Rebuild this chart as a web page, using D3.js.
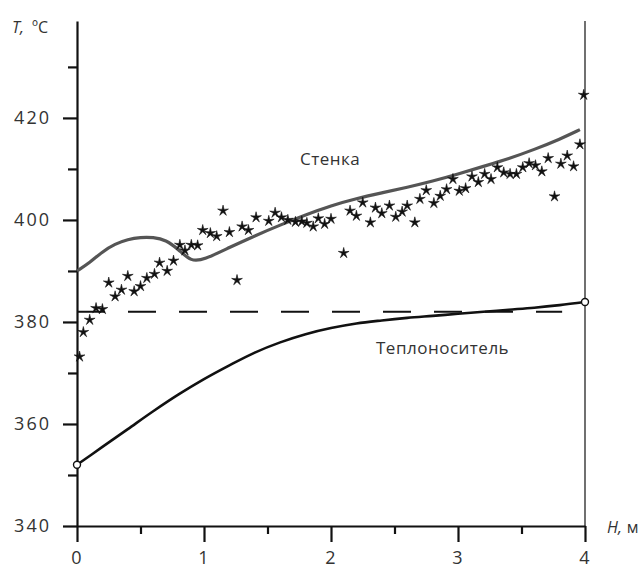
<!DOCTYPE html>
<html>
<head>
<meta charset="utf-8">
<script src="https://cdn.jsdelivr.net/npm/d3@7"></script>
<style>
  body { margin: 0; background: #fff; }
  text { font-family: "Open Sans", sans-serif; fill: #333; }
</style>
</head>
<body>
<script>
// wall temperature (gray curve)
var wallH = [0, 0.1, 0.2, 0.3, 0.4, 0.5, 0.6, 0.7, 0.8, 0.9, 1.0, 1.2, 1.4, 1.6, 1.8, 2.0, 2.2, 2.4, 2.6, 2.8, 3.0, 3.2, 3.4, 3.6, 3.8, 3.96];
var wallT = [390, 391.6, 393.8, 395.3, 396.2, 396.6, 396.6, 396.1, 394.2, 391.8, 392.2, 394.6, 396.9, 399, 401, 402.8, 404.2, 405.3, 406.4, 407.6, 409, 410.5, 412, 413.8, 415.8, 417.7];

// coolant temperature (black curve)
var coolH = [0, 0.2, 0.4, 0.6, 0.8, 1.0, 1.2, 1.4, 1.6, 1.8, 2.0, 2.2, 2.4, 2.6, 2.8, 3.0, 3.2, 3.4, 3.6, 3.8, 4.0];
var coolT = [352, 355.5, 359, 362.5, 365.8, 368.8, 371.5, 374, 376, 377.6, 378.8, 379.7, 380.3, 380.8, 381.2, 381.6, 382, 382.4, 382.8, 383.3, 383.9];

// measured points (stars)
var ptH = [0.02, 0.05, 0.10, 0.15, 0.20, 0.25, 0.30, 0.35, 0.40, 0.45, 0.50, 0.55, 0.61, 0.65, 0.71, 0.76, 0.81, 0.85, 0.90, 0.95, 0.99,
           1.05, 1.10, 1.15, 1.20, 1.26, 1.30, 1.35, 1.41, 1.51, 1.56, 1.61, 1.66, 1.72, 1.77, 1.81, 1.86, 1.90, 1.95, 2.00,
           2.10, 2.15, 2.20, 2.25, 2.31, 2.35, 2.40, 2.46, 2.51, 2.56, 2.60, 2.66, 2.70, 2.75, 2.81, 2.86, 2.91,
           2.96, 3.01, 3.06, 3.11, 3.16, 3.21, 3.26, 3.31, 3.36, 3.41, 3.46, 3.51, 3.56, 3.61, 3.66, 3.71, 3.76, 3.81, 3.86, 3.91, 3.96, 3.99];
var ptT = [373.2, 378, 380.4, 382.7, 382.5, 387.7, 385, 386.3, 389, 386, 387, 388.6, 389.4, 391.6, 390, 392, 395.1, 394, 395.1, 395, 398,
           397.4, 396.8, 401.8, 397.6, 388.2, 398.7, 398, 400.5, 399.8, 401.4, 400.5, 400, 399.6, 399.7, 399.4, 398.7, 400.3, 399.2, 400.2,
           393.5, 401.8, 400.8, 403.4, 399.5, 402.4, 401.3, 402.8, 400.6, 401.6, 402.8, 399.5, 404.1, 405.8, 403.3, 404.7, 406,
           408, 405.7, 406.2, 408.5, 407.4, 409, 408, 410.3, 409.3, 409, 409, 410.3, 411.1, 410.7, 409.5, 412.1, 404.6, 411, 412.6, 410.5, 414.8, 424.5];

var dashT = 382;
var xTicks = [0, 1, 2, 3, 4];
var xMinor = [0.5, 1.5, 2.5, 3.5];
var yTicks = [340, 360, 380, 400, 420];
var yMinor = [350, 370, 390, 410, 430];

var W = 644, H = 569;
var svg = d3.select("body").append("svg").attr("width", W).attr("height", H);

var x = d3.scaleLinear().domain([0, 4]).range([77, 585]);
var y = d3.scaleLinear().domain([340, 439]).range([526, 21]);

// right border line
svg.append("line")
  .attr("x1", x(4)).attr("x2", x(4))
  .attr("y1", y(439)).attr("y2", y(340))
  .attr("stroke", "#111").attr("stroke-width", 1.2);

// y axis
svg.append("g").attr("transform", "translate(" + x(0) + ",0)")
  .call(d3.axisLeft(y).tickValues(yTicks).tickSize(14).tickSizeOuter(0).tickPadding(12));
svg.append("g").attr("transform", "translate(" + x(0) + ",0)")
  .call(d3.axisLeft(y).tickValues(yMinor).tickSize(9).tickSizeOuter(0).tickFormat(""))
  .select(".domain").remove();

// x axis
svg.append("g").attr("transform", "translate(0," + y(340) + ")")
  .call(d3.axisBottom(x).tickValues(xTicks).tickSize(16).tickSizeOuter(0).tickPadding(9).tickFormat(d3.format("d")));
svg.append("g").attr("transform", "translate(0," + y(340) + ")")
  .call(d3.axisBottom(x).tickValues(xMinor).tickSize(8).tickSizeOuter(0).tickFormat(""))
  .select(".domain").remove();

svg.selectAll(".domain").attr("stroke", "#111").attr("stroke-width", 2.2);
svg.selectAll(".tick line").attr("stroke", "#111").attr("stroke-width", 2.2);
svg.selectAll(".tick text")
  .style("font-family", "'Open Sans', sans-serif")
  .style("font-size", "18px").style("letter-spacing", "2px").attr("fill", "#333");

// dashed line
svg.append("line")
  .attr("x1", x(0)).attr("x2", x(3.82))
  .attr("y1", y(dashT)).attr("y2", y(dashT))
  .attr("stroke", "#111").attr("stroke-width", 1.8)
  .attr("stroke-dasharray", "28,23");

var line = d3.line().x(d => x(d[0])).y(d => y(d[1])).curve(d3.curveBasis);

svg.append("path")
  .datum(wallH.map((h, i) => [h, wallT[i]]))
  .attr("d", line).attr("fill", "none")
  .attr("stroke", "#555").attr("stroke-width", 3.2);

svg.append("path")
  .datum(coolH.map((h, i) => [h, coolT[i]]))
  .attr("d", line.curve(d3.curveCatmullRom)).attr("fill", "none")
  .attr("stroke", "#111").attr("stroke-width", 2.6);

// end circles of coolant curve
svg.selectAll(".endpt")
  .data([[coolH[0], coolT[0]], [coolH[coolH.length - 1], coolT[coolT.length - 1]]])
  .enter().append("circle")
  .attr("cx", d => x(d[0])).attr("cy", d => y(d[1]))
  .attr("r", 3.5).attr("fill", "#fff")
  .attr("stroke", "#111").attr("stroke-width", 1.4);

// thin five-point star
var thinStar = {
  draw: function(ctx, size) {
    var R = Math.sqrt(size), r = R * 0.3;
    for (var i = 0; i < 10; i++) {
      var a = -Math.PI / 2 + i * Math.PI / 5;
      var rr = i % 2 ? r : R;
      if (i == 0) ctx.moveTo(rr * Math.cos(a), rr * Math.sin(a));
      else ctx.lineTo(rr * Math.cos(a), rr * Math.sin(a));
    }
    ctx.closePath();
  }
};

svg.selectAll(".star")
  .data(ptH.map((h, i) => [h, ptT[i]]))
  .enter().append("path")
  .attr("class", "star")
  .attr("transform", d => "translate(" + x(d[0]) + "," + y(d[1]) + ")")
  .attr("d", d3.symbol().type(thinStar).size(32))
  .attr("fill", "#111").attr("stroke", "#111").attr("stroke-width", 0.6);

// curve labels
svg.append("text").attr("x", 300).attr("y", 165).text("Стенка")
  .style("font-size", "17px").style("letter-spacing", "0.5px");
svg.append("text").attr("x", 376).attr("y", 354).text("Теплоноситель")
  .style("font-size", "17px").style("letter-spacing", "0.5px");

// axis titles
var tT = svg.append("text").attr("x", 12).attr("y", 33).style("font-size", "16px");
tT.append("tspan").style("font-style", "italic").text("T,");
tT.append("tspan").attr("dx", 8).text("ºC");

var tH = svg.append("text").attr("x", 607).attr("y", 533).style("font-size", "16px");
tH.append("tspan").style("font-style", "italic").text("H,");
tH.append("tspan").attr("dx", 5).text("м");
</script>
</body>
</html>
